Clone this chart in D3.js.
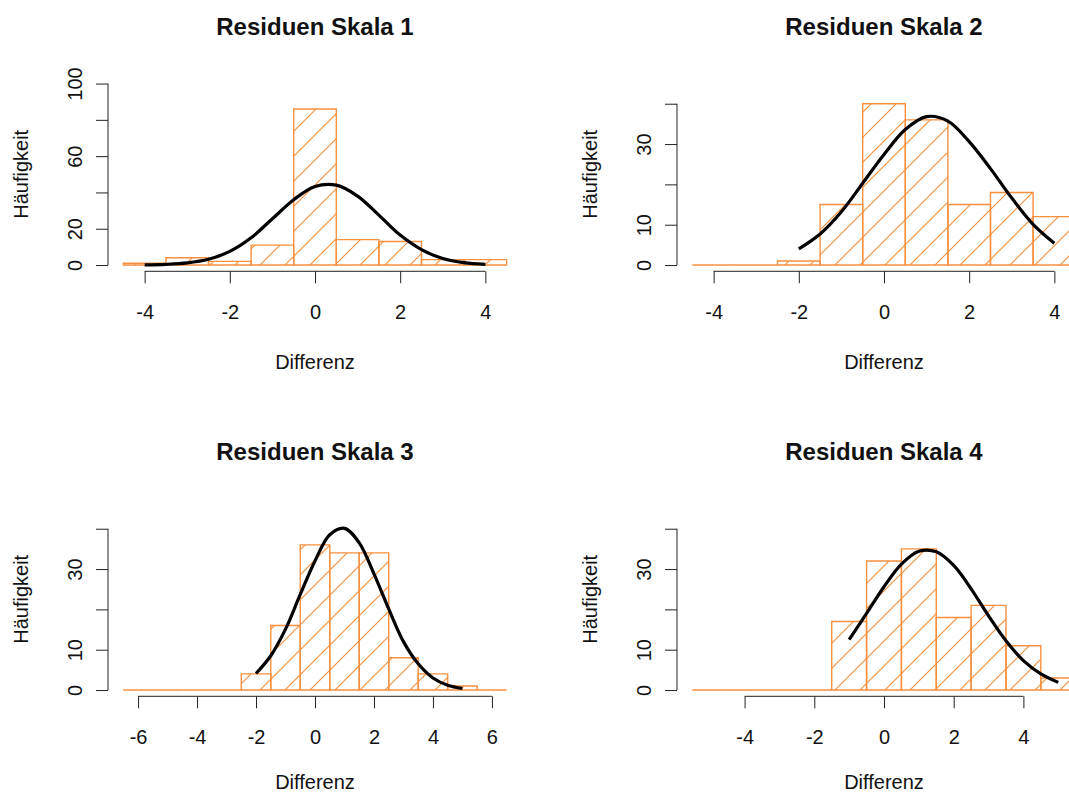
<!DOCTYPE html>
<html>
<head>
<meta charset="utf-8">
<script src="https://cdn.jsdelivr.net/npm/d3@7"></script>
<style>
  body { margin: 0; background: #fff; }
  svg { display: block; font-family: "Liberation Sans", Arial, sans-serif; }
</style>
</head>
<body>
<div id="canvas"></div>
<script>
// histogram data (bin edges + counts per panel)
var titles = ['Residuen Skala 1', 'Residuen Skala 2', 'Residuen Skala 3', 'Residuen Skala 4'];

var breaks1 = [-4.5,-3.5,-2.5,-1.5,-0.5,0.5,1.5,2.5,3.5,4.5];
var counts1 = [1,4,2,11,86,14,13,3,3];
var breaks2 = [-4.5,-3.5,-2.5,-1.5,-0.5,0.5,1.5,2.5,3.5,4.5];
var counts2 = [0,0,1,15,40,36,15,18,12];
var breaks3 = [-6.5,-5.5,-4.5,-3.5,-2.5,-1.5,-0.5,0.5,1.5,2.5,3.5,4.5,5.5,6.5];
var counts3 = [0,0,0,0,4,16,36,34,34,8,4,1,0];
var breaks4 = [-5.5,-4.5,-3.5,-2.5,-1.5,-0.5,0.5,1.5,2.5,3.5,4.5,5.5];
var counts4 = [0,0,0,0,17,32,35,18,21,11,3];

// normal curves, points
var curveX1 = [-4,-3.5,-3,-2.5,-2,-1.5,-1,-0.5,0,0.5,1,1.5,2,2.5,3,3.5,4];
var curveY1 = [0.1,0.4,1.2,3.2,7.5,15,25.5,36,43.3,44,38,27.5,16.5,8.5,3.6,1.3,0.4];
var curveX2 = [-2,-1.5,-1,-0.5,0,0.5,1,1.5,2,2.5,3,3.5,4];
var curveY2 = [4.0,7.7,13.2,20.3,27.4,33.6,36.8,35.7,30.6,23.9,16.6,10.1,5.4];
var curveX3 = [-2,-1.5,-1,-0.5,0,0.5,1,1.5,2,2.5,3,3.5,4,4.5,5];
var curveY3 = [4.1,8.5,15.1,23.7,32,38.5,40.1,36.5,28.8,20.1,12,6.5,3.0,1.2,0.4];
var curveX4 = [-1,-0.5,0,0.5,1,1.5,2,2.5,3,3.5,4,4.5,5];
var curveY4 = [12.5,19.0,25.6,31.2,34.4,34.3,30.9,25.1,18.4,12.2,7.3,4.0,1.9];

// axis ticks ('' = tick without label, as R drops overlapping ones)
var xTicks1 = [-4,-2,0,2,4];
var xTicks3 = [-6,-4,-2,0,2,4,6];
var yTicks1 = [0,20,40,60,80,100];
var yLabels1 = ['0','20','','60','','100'];
var yTicks2 = [0,10,20,30,40];
var yLabels2 = ['0','10','','30',''];

var panels = [
  {title: titles[0], breaks: breaks1, counts: counts1, cx: curveX1, cy: curveY1, xt: xTicks1, yt: yTicks1, yl: yLabels1, ymax: 100},
  {title: titles[1], breaks: breaks2, counts: counts2, cx: curveX2, cy: curveY2, xt: xTicks1, yt: yTicks2, yl: yLabels2, ymax: 45},
  {title: titles[2], breaks: breaks3, counts: counts3, cx: curveX3, cy: curveY3, xt: xTicks3, yt: yTicks2, yl: yLabels2, ymax: 45},
  {title: titles[3], breaks: breaks4, counts: counts4, cx: curveX4, cy: curveY4, xt: xTicks1, yt: yTicks2, yl: yLabels2, ymax: 45}
];

var W = 1069, H = 796;
var orange = '#f7903f';
var plotW = 414, plotH = 196;
var lefts = [108, 677], tops = [76.3, 501.3];

var svg = d3.select('#canvas').append('svg')
  .attr('width', W).attr('height', H);

// 45 degree hatching, aligned over the whole page like R's density shading
var sp = 25;
var pat = svg.append('defs').append('pattern')
  .attr('id', 'hatch')
  .attr('patternUnits', 'userSpaceOnUse')
  .attr('width', sp).attr('height', sp);
pat.append('path')
  .attr('d', 'M0,' + sp + 'L' + sp + ',0M-5,5L5,-5M' + (sp - 5) + ',' + (sp + 5) + 'L' + (sp + 5) + ',' + (sp - 5))
  .style('stroke', orange).style('stroke-width', '1.2px').style('fill', 'none');

panels.forEach(function(p, i){
  var left = lefts[i % 2], top = tops[Math.floor(i / 2)];
  var bottom = top + plotH;
  var lo = p.breaks[0], hi = p.breaks[p.breaks.length - 1];
  var pad = (hi - lo) * 0.04;

  var x = d3.scaleLinear().domain([lo - pad, hi + pad]).range([left, left + plotW]);
  var y = d3.scaleLinear().domain([-0.04 * p.ymax, 1.04 * p.ymax]).range([bottom, top]);

  var g = svg.append('g');

  // bars (paths so that empty bins still draw a line on the baseline)
  var bins = p.counts.map(function(c, j){ return {x0: p.breaks[j], x1: p.breaks[j + 1], n: c}; });
  var barPath = function(d){
    return 'M' + x(d.x0) + ',' + y(0) + 'V' + y(d.n) + 'H' + x(d.x1) + 'V' + y(0) + 'Z';
  };
  g.selectAll('.hatch').data(bins).enter().append('path')
    .attr('d', barPath)
    .style('fill', 'url(#hatch)')
    .style('stroke', 'none');
  g.selectAll('.bar').data(bins).enter().append('path')
    .attr('d', barPath)
    .style('fill', 'none')
    .style('stroke', orange)
    .style('stroke-width', '1.4px');

  // fitted curve
  var pts = p.cx.map(function(v, j){ return [v, p.cy[j]]; });
  g.append('path')
    .datum(pts)
    .attr('d', d3.line().x(function(d){ return x(d[0]); }).y(function(d){ return y(d[1]); })
      .curve(d3.curveCatmullRom))
    .attr('fill', 'none')
    .attr('stroke', '#000')
    .attr('stroke-width', 3.2);

  // x axis
  var axY = bottom - 1;
  var xa = g.append('g')
    .attr('transform', 'translate(0,' + axY + ')')
    .call(d3.axisBottom(x).tickValues(p.xt).tickSize(12).tickSizeOuter(0).tickPadding(22)
      .tickFormat(function(d){ return String(d).replace('\u2212', '-'); }));
  xa.select('.domain').remove();
  xa.append('line')
    .attr('x1', x(p.xt[0])).attr('x2', x(p.xt[p.xt.length - 1]))
    .attr('stroke', '#222');
  xa.selectAll('.tick line').attr('stroke', '#222');
  xa.selectAll('.tick text').attr('fill', '#111').style('font-size', '20px')
    .style('font-family', '"Liberation Sans", Arial, sans-serif');

  // y axis, labels parallel to axis
  var ya = g.append('g')
    .attr('transform', 'translate(' + left + ',0)')
    .call(d3.axisLeft(y).tickValues(p.yt).tickSize(12).tickSizeOuter(0)
      .tickFormat(function(d, j){ return p.yl[j]; }));
  ya.select('.domain').remove();
  ya.append('line')
    .attr('y1', y(0)).attr('y2', y(p.yt[p.yt.length - 1]))
    .attr('stroke', '#222');
  ya.selectAll('.tick line').attr('stroke', '#222');
  ya.selectAll('.tick text')
    .attr('x', 0).attr('dy', 0)
    .attr('text-anchor', 'middle')
    .attr('transform', 'translate(-26,0) rotate(-90)')
    .attr('fill', '#111').style('font-size', '20px')
    .style('font-family', '"Liberation Sans", Arial, sans-serif');

  // titles and axis labels
  g.append('text')
    .attr('x', left + plotW / 2).attr('y', top - 41)
    .attr('text-anchor', 'middle')
    .style('font-size', '24px').style('font-weight', 'bold')
    .attr('fill', '#111')
    .text(p.title);
  g.append('text')
    .attr('x', left + plotW / 2).attr('y', Math.min(bottom + 97, H - 7))
    .attr('text-anchor', 'middle')
    .style('font-size', '20px')
    .attr('fill', '#111')
    .text('Differenz');
  g.append('text')
    .attr('transform', 'translate(' + (left - 80) + ',' + (top + plotH / 2) + ') rotate(-90)')
    .attr('text-anchor', 'middle')
    .style('font-size', '20px')
    .attr('fill', '#111')
    .text('Häufigkeit');
});
</script>
</body>
</html>
